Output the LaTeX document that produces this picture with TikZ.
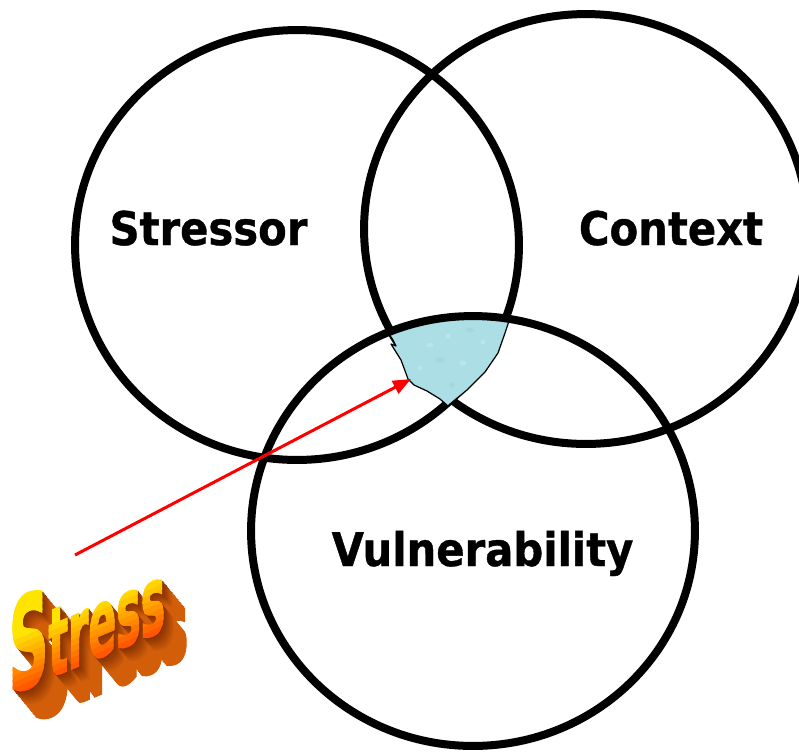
\documentclass[tikz,border=0pt]{standalone}
\usepackage{fontspec}
\usepackage{tikz}
\usetikzlibrary{arrows.meta}
\newfontfamily\vennfont{DejaVu Sans}[FakeStretch=0.9, BoldFeatures={FakeBold=0.8}]
\newfontfamily\wordfont{DejaVu Sans}[BoldFeatures={FakeBold=2}]
\definecolor{poolcyan}{RGB}{172,222,230}
\definecolor{poollight}{RGB}{198,235,240}
\definecolor{pooldark}{RGB}{156,210,219}
\definecolor{wordyellow}{RGB}{255,228,0}
\definecolor{wordorange}{RGB}{255,72,0}
\definecolor{extrudenear}{RGB}{130,46,0}
\definecolor{extrudefar}{RGB}{210,94,10}
\newcommand{\stressword}{{\fontsize{24}{24}\selectfont S}{\fontsize{18}{18}\selectfont tress}}
\tikzset{
  ring/.style={draw=black, line width=0.16cm},
  vennsize/.style={x radius=4.44cm, y radius=4.3cm},
  vennlabel/.style={anchor=base, inner sep=0pt, font=\vennfont\bfseries\fontsize{26.4}{30}\selectfont},
  stressarrow/.style={draw=red, line width=0.06cm, -{Triangle[length=0.36cm, width=0.28cm]}},
  wordslant/.style={yslant=0.42, xscale=1.3, yscale=3.0},
  word/.style={anchor=base west, inner sep=0pt, outer sep=0pt, transform shape, font=\wordfont\bfseries}
}

\begin{document}
\begin{tikzpicture}[x=0.02cm, y=-0.02cm]
  %%%%% START %%%%%
  \fill[white] (0,0) rectangle (799,752);
  \useasboundingbox (0,0) rectangle (799,752);
  \clip (0,0) rectangle (799,752);

  \coordinate (stressorc) at (297,245);
  \coordinate (contextc) at (586,229);
  \coordinate (vulnc) at (473,531);

  \draw[ring] (stressorc) ellipse [vennsize];
  \draw[ring] (contextc) ellipse [vennsize];

  % the patch where all three meet
  \filldraw[fill=poolcyan, draw=black, line width=0.7pt, line join=round]
    (389,334) -- (420,321) -- (450,316) -- (480,315) -- (510,318)
    -- (505,333) -- (498,353) -- (485,372) -- (467,390) -- (450,404)
    -- (448,406) -- (440,399) -- (427,391) -- (414,385) -- (408,379)
    -- (404,368) -- (401,360) -- (396,352) -- (391,344) -- (396,346)
    -- (393,340) -- cycle;
  \fill[poollight, opacity=0.6] (430,345) ellipse [x radius=2pt, y radius=1.2pt];
  \fill[poollight, opacity=0.6] (448,336) ellipse [x radius=1.5pt, y radius=1.2pt];
  \fill[poollight, opacity=0.6] (463,363) ellipse [x radius=2pt, y radius=1.5pt];
  \fill[poollight, opacity=0.6] (483,342) ellipse [x radius=1.5pt, y radius=1.2pt];
  \fill[poollight, opacity=0.6] (420,368) ellipse [x radius=1.2pt, y radius=1.2pt];
  \fill[pooldark, opacity=0.5] (440,360) ellipse [x radius=2.5pt, y radius=1.5pt];
  \fill[pooldark, opacity=0.5] (470,330) ellipse [x radius=2.5pt, y radius=1.2pt];
  \fill[pooldark, opacity=0.5] (452,385) ellipse [x radius=1.5pt, y radius=1.5pt];

  \draw[ring] (vulnc) ellipse [vennsize];

  \node[vennlabel] (stressor) at (208.5,245) {Stressor};
  \node[vennlabel] (context) at (671,245) {Context};
  \node[vennlabel] (vulnerability) at (482.5,566) {Vulnerability};

  %%%%% the word %%%%%
  \foreach \d in {20,19,...,1}{
    \pgfmathsetmacro\mixpct{min(100,10*\d)}
    \begin{scope}[shift={(9+1.15*\d,695+1.4*\d)}, wordslant]
      \node[word, text=extrudefar!\mixpct!extrudenear] (wordback\d) at (0,0) {\stressword};
    \end{scope}
  }
  \foreach \k in {-1,0,...,16}{
    \pgfmathsetmacro\mixpct{max(0,min(100,100*(\k+1)/10))}
    \begin{scope}[shift={(9,695)}, wordslant]
      \clip (-4,{-2*\k+0.4}) rectangle (130,{-2*\k-2.4});
      \node[word, text=wordyellow!\mixpct!wordorange] (wordface\k) at (0,0) {\stressword};
    \end{scope}
  }

  \coordinate (stresstail) at (75,555);
  \coordinate (core) at (411,379);
  \draw[stressarrow] (stresstail) -- (core);
  %%%%% END %%%%%
\end{tikzpicture}
\end{document}
